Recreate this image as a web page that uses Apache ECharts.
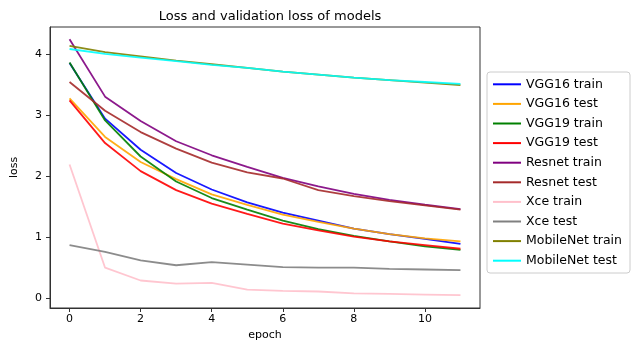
<!DOCTYPE html>
<html>
<head>
    <meta charset="UTF-8">
    <title>Loss and validation loss of models</title>
    <script src="https://cdn.jsdelivr.net/npm/echarts@6/dist/echarts.min.js"></script>
    <style>
        html, body { margin: 0; padding: 0; background: #fff; }
        #main { width: 635px; height: 350px; }
    </style>
</head>
<body>
    <div id="main"></div>
    <script>
        var epochs = [0, 1, 2, 3, 4, 5, 6, 7, 8, 9, 10, 11];
        var xTicks = [0, 2, 4, 6, 8, 10];
        var yTicks = [0, 1, 2, 3, 4];

        var vgg16Train = [3.85, 2.94, 2.43, 2.05, 1.78, 1.57, 1.40, 1.27, 1.14, 1.05, 0.97, 0.89];
        var vgg16Test = [3.27, 2.64, 2.23, 1.95, 1.70, 1.53, 1.37, 1.25, 1.14, 1.05, 0.98, 0.93];
        var vgg19Train = [3.86, 2.91, 2.32, 1.91, 1.64, 1.45, 1.27, 1.13, 1.02, 0.93, 0.85, 0.79];
        var vgg19Test = [3.24, 2.54, 2.08, 1.77, 1.55, 1.38, 1.22, 1.11, 1.01, 0.93, 0.87, 0.81];
        var resnetTrain = [4.24, 3.30, 2.90, 2.57, 2.34, 2.15, 1.97, 1.83, 1.71, 1.61, 1.53, 1.46];
        var resnetTest = [3.54, 3.07, 2.72, 2.45, 2.22, 2.06, 1.96, 1.77, 1.67, 1.59, 1.52, 1.45];
        var xceTrain = [2.19, 0.50, 0.29, 0.24, 0.25, 0.14, 0.12, 0.11, 0.08, 0.07, 0.06, 0.05];
        var xceTest = [0.87, 0.76, 0.62, 0.54, 0.59, 0.55, 0.51, 0.50, 0.50, 0.48, 0.47, 0.46];
        var mobileTrain = [4.13, 4.03, 3.96, 3.89, 3.83, 3.77, 3.71, 3.66, 3.61, 3.57, 3.53, 3.49];
        var mobileTest = [4.08, 4.00, 3.94, 3.88, 3.82, 3.77, 3.71, 3.66, 3.61, 3.57, 3.54, 3.51];

        var seriesDefs = [
            ['VGG16 train', vgg16Train, '#0000ff'],
            ['VGG16 test', vgg16Test, '#ffa500'],
            ['VGG19 train', vgg19Train, '#008000'],
            ['VGG19 test', vgg19Test, '#ff0000'],
            ['Resnet train', resnetTrain, '#800080'],
            ['Resnet test', resnetTest, '#a52a2a'],
            ['Xce train', xceTrain, '#ffc0cb'],
            ['Xce test', xceTest, '#808080'],
            ['MobileNet train', mobileTrain, '#808000'],
            ['MobileNet test', mobileTest, '#00ffff']
        ];

        var series = seriesDefs.map(function (d) {
            return {
                name: d[0],
                type: 'line',
                data: epochs.map(function (e, i) { return [e, d[1][i]]; }),
                showSymbol: false,
                symbol: 'none',
                animation: false,
                lineStyle: { color: d[2], width: 1.8, opacity: 0.9 },
                itemStyle: { color: d[2] }
            };
        });

        var chart = echarts.init(document.getElementById('main'));
        var font = 'DejaVu Sans';
        chart.setOption({
            backgroundColor: '#fff',
            title: {
                text: 'Loss and validation loss of models',
                left: 265,
                top: 5,
                textAlign: 'center',
                textStyle: { fontFamily: font, fontSize: 13, fontWeight: 'normal', color: '#000' }
            },
            legend: {
                orient: 'vertical',
                left: 487,
                top: 72,
                itemWidth: 28,
                itemHeight: 2,
                itemGap: 5,
                padding: [5, 8, 5, 6],
                borderColor: '#ccc',
                borderWidth: 1,
                borderRadius: 3,
                icon: 'rect',
                textStyle: { fontFamily: font, fontSize: 12.5, lineHeight: 14.6, color: '#000' },
                data: seriesDefs.map(function (d) { return d[0]; })
            },
            grid: { left: 50, right: 155, top: 27, bottom: 42 },
            xAxis: {
                type: 'value',
                min: -0.55,
                max: 11.55,
                name: 'epoch',
                nameLocation: 'middle',
                nameGap: 22,
                nameTextStyle: { fontFamily: font, fontSize: 11, color: '#000' },
                splitLine: { show: false },
                axisLine: { onZero: false, lineStyle: { color: '#333', width: 1 } },
                axisTick: { customValues: xTicks, length: 4, lineStyle: { color: '#333' } },
                axisLabel: { customValues: xTicks, fontFamily: font, fontSize: 11, color: '#000', margin: 6 }
            },
            yAxis: {
                type: 'value',
                min: -0.16,
                max: 4.44,
                name: 'loss',
                nameLocation: 'middle',
                nameGap: 30,
                nameTextStyle: { fontFamily: font, fontSize: 11, color: '#000' },
                splitLine: { show: false },
                axisLine: { show: true, onZero: false, lineStyle: { color: '#333', width: 1 } },
                axisTick: { show: true, customValues: yTicks, length: 4, lineStyle: { color: '#333' } },
                axisLabel: { customValues: yTicks, fontFamily: font, fontSize: 11, color: '#000', margin: 8 }
            },
            graphic: [{
                type: 'rect',
                shape: { x: 50, y: 27, width: 430, height: 281 },
                style: { fill: 'none', stroke: '#333', lineWidth: 1 },
                silent: true,
                z: 10
            }],
            series: series
        });
    </script>
</body>
</html>
